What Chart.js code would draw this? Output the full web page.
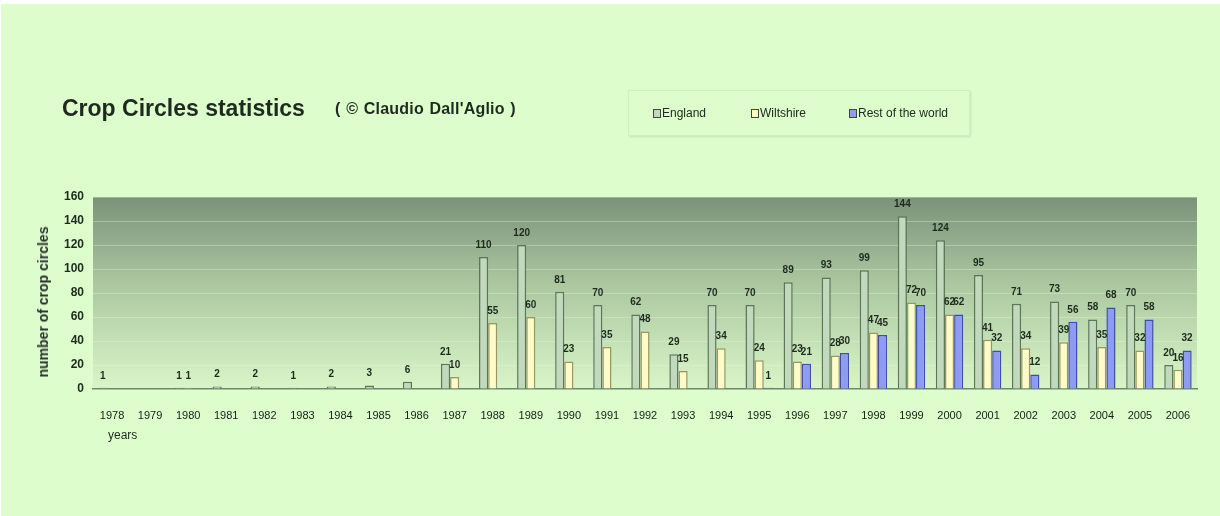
<!DOCTYPE html>
<html>
<head>
<meta charset="utf-8">
<script src="https://cdn.jsdelivr.net/npm/chart.js@4/dist/chart.umd.min.js"></script>
<style>
  body { margin: 0; background: #fff; width: 1220px; height: 516px; overflow: hidden; font-family: "Liberation Sans", Arial, sans-serif; }
  #page { position: absolute; left: 1px; top: 4px; width: 1219px; height: 512px; background: #ddfdcd; }
  #chart { position: absolute; left: 0; top: 0; }
  .title { position: absolute; left: 62px; top: 95px; font-size: 23px; font-weight: bold; color: #1e2a1e; }
  .sub { position: absolute; left: 335px; top: 100px; font-size: 16px; font-weight: bold; letter-spacing: 0.2px; word-spacing: 1px; color: #1e2a1e; }
  #legend { position: absolute; left: 628px; top: 90px; width: 340px; height: 44px; border: 1px solid #d2efc3; box-shadow: 1px 1px 2px rgba(160,200,150,0.4); }
  .item { position: absolute; top: 15px; font-size: 12px; color: #222a22; white-space: nowrap; }
  .item i { display: inline-block; width: 6px; height: 7px; border: 1px solid #444; margin-right: 1px; vertical-align: -1px; }
  .ytitle { position: absolute; left: 43px; top: 302px; transform: translate(-50%, -50%) rotate(-90deg); font-size: 14px; font-weight: bold; color: #2a332a; white-space: nowrap; }
  .xtitle { position: absolute; left: 108px; top: 428px; font-size: 12px; color: #1e2a1e; }
</style>
</head>
<body>
<div id="page"></div>
<canvas id="chart" width="1220" height="516"></canvas>
<div class="title">Crop Circles statistics</div>
<div class="sub">( © Claudio Dall'Aglio )</div>
<div id="legend"></div>
<div class="ytitle">number of crop circles</div>
<div class="xtitle">years</div>
<script>
const years = ['1978','1979','1980','1981','1982','1983','1984','1985','1986','1987',
    '1988','1989','1990','1991','1992','1993','1994','1995','1996','1997',
    '1998','1999','2000','2001','2002','2003','2004','2005','2006'];

const england = [1, null, 1, 2, 2, 1, 2, 3, 6, 21,
    110, 120, 81, 70, 62, 29, 70, 70, 89, 93,
    99, 144, 124, 95, 71, 73, 58, 70, 20];

const wiltshire = [null, null, 1, null, null, null, null, null, null, 10,
    55, 60, 23, 35, 48, 15, 34, 24, 23, 28,
    47, 72, 62, 41, 34, 39, 35, 32, 16];

const restOfWorld = [null, null, null, null, null, null, null, null, null, null,
    null, null, null, null, null, null, null, 1, 21, 30,
    45, 70, 62, 32, 12, 56, 68, 58, 32];

const yTicks = [0, 20, 40, 60, 80, 100, 120, 140, 160];

const sans = '"Liberation Sans", Arial, sans-serif';

// gradient behind the bars
const plotBackground = {
    id: 'plotBackground',
    beforeDraw(chart) {
        const a = chart.chartArea;
        const ctx = chart.ctx;
        const g = ctx.createLinearGradient(0, a.top, 0, a.bottom);
        g.addColorStop(0, '#7a927a');
        g.addColorStop(0.45, '#abc7a0');
        g.addColorStop(1, '#d9f5c8');
        ctx.save();
        ctx.fillStyle = g;
        ctx.fillRect(a.left, a.top, a.right - a.left, a.bottom - a.top);
        ctx.restore();
    }
};

// numbers above bars
const barLabels = {
    id: 'barLabels',
    afterDatasetsDraw(chart) {
        const ctx = chart.ctx;
        ctx.save();
        ctx.font = 'bold 10px ' + sans;
        ctx.fillStyle = '#1e2a1e';
        ctx.textAlign = 'center';
        ctx.textBaseline = 'bottom';
        chart.data.datasets.forEach((ds, i) => {
            chart.getDatasetMeta(i).data.forEach((bar, j) => {
                const v = ds.data[j];
                if (v) ctx.fillText(v, bar.x, bar.y - 7);
            });
        });
        ctx.restore();
    }
};

const chart = new Chart(document.getElementById('chart'), {
    type: 'bar',
    data: {
        labels: years,
        datasets: [
            { label: 'England', data: england, backgroundColor: '#c3d9bd', borderColor: '#587858', borderWidth: 1.5 },
            { label: 'Wiltshire', data: wiltshire, backgroundColor: '#fffbc8', borderColor: '#9c9660', borderWidth: 1.5 },
            { label: 'Rest of the world', data: restOfWorld, backgroundColor: '#8d9cf2', borderColor: '#3e4ea6', borderWidth: 1.5 }
        ]
    },
    options: {
        responsive: false,
        animation: false,
        layout: { padding: { top: 197, right: 23, left: 0, bottom: 0 } },
        datasets: { bar: { categoryPercentage: 0.72, barPercentage: 1.0 } },
        plugins: { legend: { display: false }, tooltip: { enabled: false } },
        scales: {
            x: {
                grid: { display: false },
                border: { display: true, color: '#6c886c', width: 1.5 },
                ticks: { color: '#141f14', padding: 12, maxRotation: 0, autoSkip: false, font: { family: sans, size: 11 } },
                afterFit: s => { s.height = 127; }
            },
            y: {
                min: 0,
                max: 160,
                afterBuildTicks: s => { s.ticks = yTicks.map(v => ({ value: v })); },
                grid: { color: 'rgba(230,250,220,0.35)', drawTicks: false },
                border: { display: false },
                ticks: { color: '#1e2a1e', padding: 9, font: { family: sans, size: 12, weight: 'bold' } },
                afterFit: s => { s.width = 93; }
            }
        }
    },
    plugins: [plotBackground, barLabels]
});

// legend box built from the datasets
const legendEl = document.getElementById('legend');
const legendX = [24, 122, 220];
chart.data.datasets.forEach((ds, i) => {
    const item = document.createElement('div');
    item.className = 'item';
    item.style.left = legendX[i] + 'px';
    item.innerHTML = '<i style="background:' + ds.backgroundColor + '"></i>' + ds.label;
    legendEl.appendChild(item);
});
</script>
</body>
</html>
